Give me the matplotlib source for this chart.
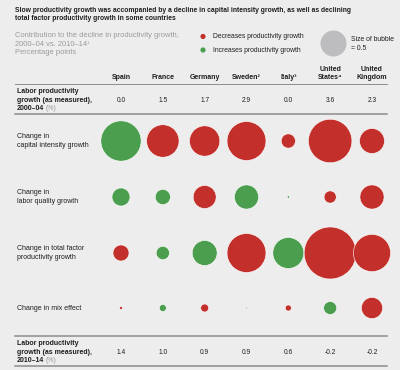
import numpy as np
import matplotlib.pyplot as plt

plt.rcParams["font.family"] = ["Liberation Sans", "DejaVu Sans"]

countries = ["Spain", "France", "Germany", "Sweden\u00b2", "Italy\u00b3",
             "United\nStates\u2074", "United\nKingdom"]
growth_2000_04 = [0.0, 1.5, 1.7, 2.9, 0.0, 3.6, 2.3]
growth_2010_14 = [1.4, 1.0, 0.9, 0.9, 0.6, -0.2, -0.2]

row_labels = ["Change in\ncapital intensity growth",
              "Change in\nlabor quality growth",
              "Change in total factor\nproductivity growth",
              "Change in mix effect"]
# positive = decreases productivity growth (red), negative = increases (green)
capital = [-1.2, 0.78, 0.68, 1.12, 0.15, 1.4, 0.46]
labor = [-0.24, -0.17, 0.39, -0.43, -0.004, 0.11, 0.43]
tfp = [0.19, -0.13, -0.46, 1.12, -0.71, 2.0, 1.02]
mix = [0.006, -0.036, 0.047, -0.002, 0.027, -0.125, 0.33]
bubbles = [capital, labor, tfp, mix]

RED = "#C3302B"
GREEN = "#4A9E4E"
GREY = "#BDBDBF"
BG = "#EDEDED"
DARK = "#1E1E1E"
LIGHT = "#9A9A9A"

REF_D = 26  # diameter in px of a 0.5 bubble


def bubble_size(v):
    d = REF_D * np.sqrt(np.abs(v) / 0.5)
    return (d * 72 / 100) ** 2


fig = plt.figure(figsize=(4, 3.7), dpi=100, facecolor=BG)
ax = fig.add_axes([0, 0, 1, 1])
ax.set_xlim(0, 400)
ax.set_ylim(370, 0)
ax.axis("off")
ax.set_facecolor(BG)

# title + subtitle
ax.text(15, 14.5, "Slow productivity growth was accompanied by a decline in capital intensity growth, as well as declining\n"
        "total factor productivity growth in some countries",
        fontsize=4.9, fontweight="bold", color=DARK, va="center", linespacing=1.35)
ax.text(15, 44, "Contribution to the decline in productivity growth,\n2000\u201304 vs. 2010\u201314\u00b9\nPercentage points",
        fontsize=5.4, color=LIGHT, va="center", linespacing=1.25)

# legend
ax.scatter([203, 203], [36.5, 50], s=bubble_size(0.02), c=[RED, GREEN], linewidths=0)
ax.text(213, 36.5, "Decreases productivity growth", fontsize=4.9, color=DARK, va="center")
ax.text(213, 50, "Increases productivity growth", fontsize=4.9, color=DARK, va="center")
ax.scatter([333], [43], s=bubble_size(0.5), c=GREY, linewidths=0)
ax.text(351, 44, "Size of bubble\n= 0.5", fontsize=4.9, color=DARK, va="center", linespacing=1.35)

col_x = np.linspace(121, 372, len(countries))
row_y = [141, 197, 253, 308]

# column headers
for x, c in zip(col_x, countries):
    ax.text(x, 81, c, fontsize=5, fontweight="bold", color=DARK, ha="center", va="bottom",
            linespacing=1.25)

# rules
ax.plot([15, 387], [84, 84], color="#8C8C8C", lw=0.7)
ax.plot([15, 387], [114, 114], color="#8C8C8C", lw=1.1)
ax.plot([15, 387], [336, 336], color="#8C8C8C", lw=1.1)
ax.plot([15, 387], [366, 366], color="#8C8C8C", lw=1.1)

renderer = fig.canvas.get_renderer()


def measured_row(y, period, values):
    ax.text(17, y - 4, "Labor productivity\ngrowth (as measured),", fontsize=5,
            fontweight="bold", color=DARK, va="center", linespacing=1.25)
    t = ax.text(17, y + 8, period, fontsize=5, fontweight="bold", color=DARK, va="center")
    # put the grey unit right after the period
    w = t.get_window_extent(renderer).width
    ax.text(17 + w + 2, y + 8, "(%)", fontsize=5, color=LIGHT, va="center")
    for x, v in zip(col_x, values):
        ax.text(x, y, f"{v:.1f}", fontsize=4.8, color=DARK, ha="center", va="center")


measured_row(100, "2000\u201304", growth_2000_04)
measured_row(352, "2010\u201314", growth_2010_14)

# bubble rows
for y, label, vals in zip(row_y, row_labels, bubbles):
    ax.text(17, y, label, fontsize=5, color=DARK, va="center", linespacing=1.3)
    vals = np.array(vals)
    colors = [RED if v > 0 else GREEN for v in vals]
    ax.scatter(col_x, [y] * len(vals), s=bubble_size(vals), c=colors,
               edgecolors="white", linewidths=0.4)

fig.savefig("out.png", dpi=100, facecolor=BG)
